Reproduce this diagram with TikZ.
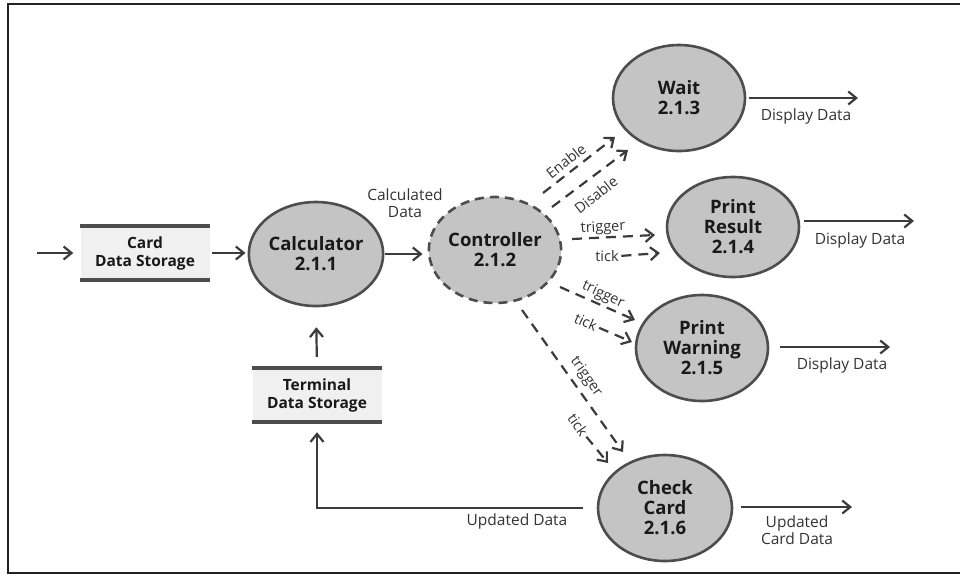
\documentclass[tikz,border=0pt]{standalone}
\usepackage{fontspec}
\setmainfont{Open Sans}
\usetikzlibrary{shapes.geometric,arrows.meta,calc}
\definecolor{procfill}{HTML}{C4C4C4}
\definecolor{procline}{HTML}{4D4D4D}
\definecolor{flowline}{HTML}{3B3B3B}
\definecolor{storefill}{HTML}{F0F0F0}
\definecolor{labeltext}{HTML}{333333}
\definecolor{framecol}{HTML}{222222}

\begin{document}
\begin{tikzpicture}[x=1pt,y=-1pt,
  proc/.style={ellipse, fill=procfill, draw=procline, line width=2.6pt,
    inner sep=0pt, align=center, text=black!90,
    font=\fontsize{18.5}{20}\selectfont\bfseries},
  ctrlproc/.style={proc, dash pattern=on 9pt off 6pt},
  store/.style={rectangle, fill=storefill, inner sep=0pt,
    minimum width=129pt, minimum height=54pt, align=center, text=black!90,
    font=\fontsize{15.5}{18}\selectfont\bfseries},
  bar/.style={draw=procline, line width=4.5pt},
  flow/.style={draw=flowline, line width=2.2pt,
    -{Straight Barb[length=8pt,width=13pt]}},
  dflow/.style={flow, dash pattern=on 10pt off 7pt},
  lbl/.style={font=\fontsize{15.5}{17}\selectfont, text=labeltext,
    align=center, inner sep=0.5pt},
  dlbl/.style={font=\fontsize{14.5}{15}\selectfont, text=labeltext, inner sep=0.5pt},
]
\useasboundingbox (0,0) rectangle (960,574);

% frame
\draw[framecol, line width=2pt] (960,4) -- (8,4) -- (8,573) -- (960,573);

% data stores
\node[store] (card) at (145,253) {Card\\Data Storage};
\draw[bar] (card.north west) -- (card.north east);
\draw[bar] (card.south west) -- (card.south east);
\node[store] (term) at (317,395) {Terminal\\Data Storage};
\draw[bar] (term.north west) -- (term.north east);
\draw[bar] (term.south west) -- (term.south east);

% processes
\node[proc, minimum width=130pt, minimum height=104pt] (calc) at (316,254) {Calculator\\2.1.1};
\node[ctrlproc, minimum width=130pt, minimum height=106pt] (ctrl) at (495,250) {Controller\\2.1.2};
\node[proc, minimum width=132pt, minimum height=106pt] (wait) at (679,98) {Wait\\2.1.3};
\node[proc, minimum width=132pt, minimum height=100pt] (pres) at (733,227) {Print\\Result\\2.1.4};
\node[proc, minimum width=132pt, minimum height=106pt] (pwarn) at (702,348) {Print\\Warning\\2.1.5};
\node[proc, minimum width=134pt, minimum height=106pt] (check) at (665,508) {Check\\Card\\2.1.6};

% solid data flows
\coordinate (src) at (37,253);
\draw[flow, shorten >=7pt] (src) -- (card);
\draw[flow, shorten <=2pt, shorten >=2pt] (card.east) -- (card.east -| calc.west);
\draw[flow, shorten <=1pt, shorten >=5pt] (calc.east) -- (calc.east -| ctrl.west);
\node[lbl] (calclbl) at (405,203) {Calculated\\Data};
\draw[flow, shorten <=11pt, shorten >=20pt] (term.north) -- (calc.south);
\draw[flow, shorten <=14pt, shorten >=10pt] (check.west) -| (term.south);
\node[lbl] (updlbl) at (517,521) {Updated Data};

\coordinate (waitout) at (858,98);
\draw[flow, shorten <=3pt] (waitout -| wait.east) -- (waitout);
\node[lbl] (waitlbl) at (806,116) {Display Data};

\coordinate (presout) at (914,221);
\draw[flow, shorten <=4pt] (presout -| pres.east) -- (presout);
\node[lbl] (preslbl) at (860,240) {Display Data};

\coordinate (pwarnout) at (890,347);
\draw[flow, shorten <=11pt] (pwarnout -| pwarn.east) -- (pwarnout);
\node[lbl] (pwarnlbl) at (842,365) {Display Data};

\coordinate (checkout) at (852,507);
\draw[flow, shorten <=8pt] (checkout -| check.east) -- (checkout);
\node[lbl] (checklbl) at (797,530) {Updated\\Card Data};

% control flows from the controller
\draw[dflow] ($(ctrl)+(48,-57)$) -- ($(wait)+(-64,39)$);
\node[dlbl, rotate=38] (enlbl) at (566,161) {Enable};
\draw[dflow] ($(ctrl)+(57,-43)$) -- ($(wait)+(-51,52)$);
\node[dlbl, rotate=38] (dislbl) at (596,195) {Disable};

\draw[dflow] ($(ctrl)+(77,-11)$) -- ($(pres)+(-78,8)$);
\node[dlbl, rotate=3] (trg1) at (603,228) {trigger};
\node[dlbl] (tck1) at (607,256) {tick};
\draw[dflow, shorten <=2pt] (tck1.east) -- ($(pres)+(-73,26)$);

\draw[dflow] ($(ctrl)+(65,37)$) -- ($(pwarn)+(-67,-28)$);
\node[dlbl, rotate=-25] (trg2) at (603,295) {trigger};
\node[dlbl, rotate=-24] (tck2) at (586,322) {tick};
\draw[dflow, shorten <=2pt] (tck2.east) -- ($(pwarn)+(-70,-6)$);

\draw[dflow] ($(ctrl)+(27,60)$) -- ($(check)+(-42,-56)$);
\node[dlbl, rotate=-55] (trg3) at (586,377) {trigger};
\node[dlbl, rotate=-55] (tck3) at (578,425) {tick};
\draw[dflow, shorten <=2pt] (tck3.east) -- ($(check)+(-57,-45)$);
\end{tikzpicture}
\end{document}
